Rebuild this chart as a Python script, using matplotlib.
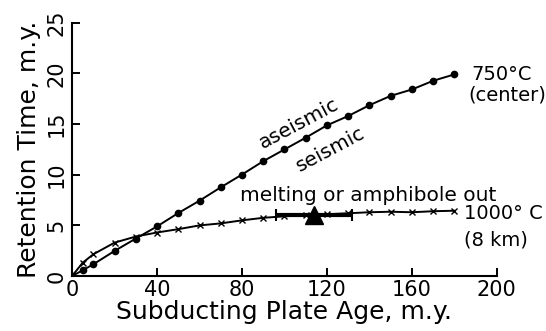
import matplotlib
matplotlib.use("Agg")
import matplotlib.pyplot as plt

# Data
ages_750 = [0, 5, 10, 20, 30, 40, 50, 60, 70, 80, 90, 100, 110, 120, 130, 140, 150, 160, 170, 180]
time_750 = [0, 0.57, 1.16, 2.48, 3.7, 4.9, 6.22, 7.44, 8.76, 10.02, 11.34, 12.5, 13.66, 14.88, 15.8, 16.87, 17.79, 18.42, 19.28, 19.91]

ages_1000 = [0, 5, 10, 20, 30, 40, 50, 60, 70, 80, 90, 100, 110, 120, 130, 140, 150, 160, 170, 180]
time_1000 = [0, 1.32, 2.15, 3.3, 3.9, 4.3, 4.63, 5.0, 5.2, 5.5, 5.75, 5.9, 6.0, 6.1, 6.2, 6.3, 6.35, 6.3, 6.4, 6.45]

obs_age = [114]
obs_time = [6.0]
obs_age_err = [18]

xticks = [0, 40, 80, 120, 160, 200]
yticks = [0, 5, 10, 15, 20, 25]

fig = plt.figure(figsize=(5.46, 3.31), dpi=100)
ax = fig.add_axes([0.132, 0.166, 0.778, 0.765])

ax.plot(ages_750, time_750, color="black", lw=1.4, marker="o", ms=4.5)
ax.plot(ages_1000, time_1000, color="black", lw=1.4, marker="x", ms=5, mew=1.0)
ax.errorbar(obs_age, obs_time, xerr=obs_age_err, fmt="^", color="black",
            ms=13, elinewidth=3.0, capsize=4.5, capthick=1.5)

ax.set_xlim(0, 200)
ax.set_ylim(0, 25)
ax.set_xticks(xticks)
ax.set_yticks(yticks)
ax.set_xticklabels([str(t) for t in xticks], fontsize=15)
ax.set_yticklabels([str(t) for t in yticks], fontsize=15, rotation=90, va="center", ha="right")
ax.tick_params(direction="in", length=6, width=1.4)
ax.tick_params(axis="x", pad=3)
ax.tick_params(axis="y", pad=4)
for s in ["top", "right"]:
    ax.spines[s].set_visible(False)
for s in ["left", "bottom"]:
    ax.spines[s].set_linewidth(1.5)

ax.set_xlabel("Subducting Plate Age, m.y.", fontsize=18, labelpad=0)
ax.set_ylabel("Retention Time, m.y.", fontsize=18, labelpad=4)

ax.text(107, 15.1, "aseismic", fontsize=14.5, rotation=28, ha="center", va="center")
ax.text(121.5, 12.5, "seismic", fontsize=14.5, rotation=28, ha="center", va="center")
ax.text(139.3, 8.0, "melting or amphibole out", fontsize=14.5, ha="center", va="center")

ax.text(188, 19.9, "750°C", fontsize=14, ha="left", va="center", clip_on=False)
ax.text(186.5, 17.9, "(center)", fontsize=14, ha="left", va="center", clip_on=False)
ax.text(184.5, 6.15, "1000° C", fontsize=14, ha="left", va="center", clip_on=False)
ax.text(184.5, 3.6, "(8 km)", fontsize=14, ha="left", va="center", clip_on=False)

fig.savefig("out.png", dpi=100)
